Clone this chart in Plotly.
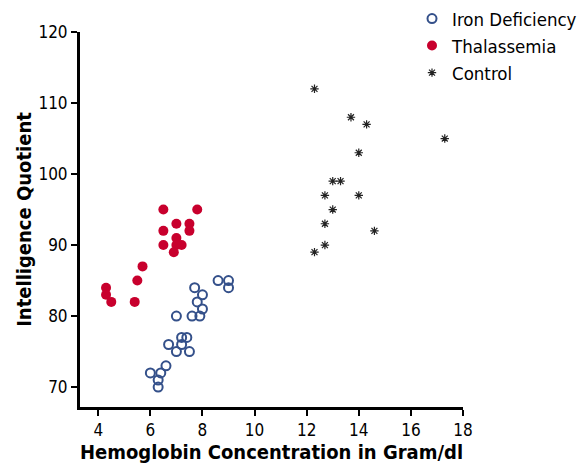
import plotly.graph_objects as go

# Iron Deficiency
iron_hb = [8.6, 9.0, 9.0, 7.7, 8.0, 7.8, 8.0, 7.0, 7.6, 7.9, 7.2, 7.4, 7.2, 6.7, 7.0, 7.5, 6.6, 6.0, 6.4, 6.3, 6.3]
iron_iq = [85, 85, 84, 84, 83, 82, 81, 80, 80, 80, 77, 77, 76, 76, 75, 75, 73, 72, 72, 71, 70]

# Thalassemia
thal_hb = [6.5, 7.8, 7.0, 7.5, 6.5, 7.5, 7.0, 6.5, 7.0, 7.2, 6.9, 5.7, 5.5, 4.3, 4.3, 4.5, 5.4]
thal_iq = [95, 95, 93, 93, 92, 92, 91, 90, 90, 90, 89, 87, 85, 84, 83, 82, 82]

# Control
ctrl_hb = [12.3, 13.7, 14.3, 17.3, 14.0, 13.0, 13.3, 12.7, 14.0, 13.0, 12.7, 14.6, 12.7, 12.3]
ctrl_iq = [112, 108, 107, 105, 103, 99, 99, 97, 97, 95, 93, 92, 90, 89]

x_ticks = [4, 6, 8, 10, 12, 14, 16, 18]
y_ticks = [70, 80, 90, 100, 110, 120]

FONT = "DejaVu Sans Condensed, Liberation Sans Narrow, sans-serif"

fig = go.Figure()
fig.add_trace(go.Scatter(
    x=iron_hb, y=iron_iq, mode="markers", name="Iron Deficiency",
    marker=dict(symbol="circle-open", size=9, color="#34508a", line=dict(width=2, color="#34508a")),
))
fig.add_trace(go.Scatter(
    x=thal_hb, y=thal_iq, mode="markers", name="Thalassemia",
    marker=dict(symbol="circle", size=10, color="#c8002d", line=dict(width=0)),
))
fig.add_trace(go.Scatter(
    x=ctrl_hb, y=ctrl_iq, mode="markers", name="Control",
    marker=dict(symbol="asterisk-open", size=7, color="#222222", line=dict(width=1.2, color="#222222")),
))

fig.update_layout(
    width=584, height=468,
    margin=dict(l=80, r=121, t=32, b=61, autoexpand=False),
    paper_bgcolor="white", plot_bgcolor="white",
    font=dict(family=FONT, size=17, color="black"),
    showlegend=True,
    legend=dict(xref="container", yref="container", x=412 / 584, y=1.006,
                xanchor="left", yanchor="top",
                font=dict(family=FONT, size=18.5, color="black"),
                bgcolor="rgba(0,0,0,0)", tracegroupgap=0),
    xaxis=dict(
        range=[3.3, 18], tickvals=x_ticks, showgrid=False, zeroline=False,
        showline=True, linecolor="black", linewidth=3,
        ticks="outside", ticklen=6, tickwidth=2, tickcolor="black",
        tickfont=dict(family=FONT, size=17),
        title=dict(text="<b>Hemoglobin Concentration in Gram/dl</b>", font=dict(family=FONT, size=20), standoff=2),
    ),
    yaxis=dict(
        range=[67.2, 120], tickvals=y_ticks, showgrid=False, zeroline=False,
        showline=True, linecolor="black", linewidth=3,
        ticks="outside", ticklen=6, tickwidth=2, tickcolor="black",
        tickfont=dict(family=FONT, size=17),
        title=dict(text="<b>Intelligence Quotient</b>", font=dict(family=FONT, size=20), standoff=2),
    ),
)

fig.write_html("out.html")
